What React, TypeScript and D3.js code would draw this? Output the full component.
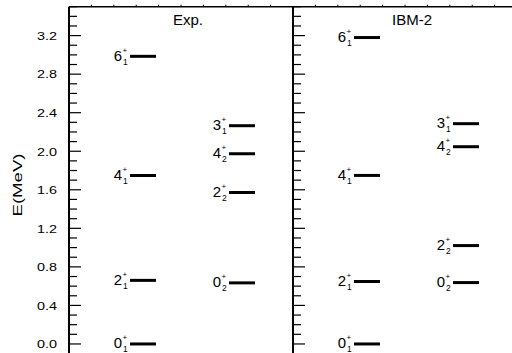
import React from "react";
import * as d3 from "d3";

const panelTitles = ["Exp.", "IBM-2"];
const levelSpins = ["0", "2", "4", "6", "0", "2", "4", "3"];
const levelIndex = ["1", "1", "1", "1", "2", "2", "2", "1"];
const levelColumn = [0, 0, 0, 0, 1, 1, 1, 1];
const expEnergies = [0, 0.66, 1.748, 2.985, 0.634, 1.572, 1.974, 2.265];
const ibmEnergies = [0, 0.648, 1.749, 3.18, 0.637, 1.021, 2.047, 2.286];
const yTickValues = [0, 0.4, 0.8, 1.2, 1.6, 2.0, 2.4, 2.8, 3.2];
const yMinorValues = d3.range(0, 36).map((i) => i / 10);

const W = 512;
const H = 353;
const PANEL_W = 224;
const LEFT = 69;
const TOP = 6.7;

export default function App() {
  const y = d3.scaleLinear().domain([-0.1, 3.5]).range([353.6, TOP]);
  const panelX = d3
    .scaleBand<number>()
    .domain([0, 1, 2])
    .range([LEFT, LEFT + 3 * PANEL_W])
    .padding(0);
  const colX = d3.scaleLinear().domain([0, 1]).range([61, 160]);
  const topTick = d3.scaleLinear().domain([0, 10]).range([0, PANEL_W]);
  const series = [expEnergies, ibmEnergies];

  return (
    <div style={{ position: "absolute", left: 0, top: 0 }}>
      <svg
        width={W}
        height={H}
        style={{ display: "block", fontFamily: "Arial, 'Liberation Sans', sans-serif" }}
      >
        <rect width={W} height={H} fill="#fff" />
        <line x1={LEFT} x2={W + 10} y1={TOP} y2={TOP} stroke="#000" strokeWidth={1.5} />
        {[0, 1].map((p) =>
          d3.range(1, 10).map((i) => (
            <line
              key={`tt${p}-${i}`}
              x1={(panelX(p) as number) + topTick(i)}
              x2={(panelX(p) as number) + topTick(i)}
              y1={TOP}
              y2={TOP - 2}
              stroke="#000"
              strokeWidth={1}
            />
          ))
        )}
        {[0, 1].map((p) => {
          const x0 = panelX(p) as number;
          return (
            <g key={`ax${p}`}>
              <line x1={x0} x2={x0} y1={TOP} y2={H + 5} stroke="#000" strokeWidth={2} />
              {yMinorValues.map((v) => {
                const major = yTickValues.some((t) => Math.abs(t - v) < 1e-6);
                return (
                  <line
                    key={`mt${v}`}
                    x1={x0}
                    x2={x0 + (major ? 12 : 8)}
                    y1={y(v)}
                    y2={y(v)}
                    stroke="#000"
                    strokeWidth={1.2}
                  />
                );
              })}
              <text x={x0 + 119} y={24.5} fontSize={15} textAnchor="middle" fill="#000">
                {panelTitles[p]}
              </text>
            </g>
          );
        })}
        {yTickValues.map((v) => (
          <text
            key={`yl${v}`}
            x={57}
            y={y(v) + 4.3}
            fontSize={11.5}
            textAnchor="end"
            textLength={20}
            lengthAdjust="spacingAndGlyphs"
            fill="#000"
          >
            {d3.format(".1f")(v)}
          </text>
        ))}
        <text
          transform={`translate(22,185) rotate(-90)`}
          fontSize={13.5}
          textAnchor="middle"
          textLength={63}
          lengthAdjust="spacingAndGlyphs"
          fill="#000"
        >
          E(MeV)
        </text>
        {series.map((energies, p) => {
          const x0 = panelX(p) as number;
          return (
            <g key={`lv${p}`}>
              {energies.map((e, i) => {
                const xs = x0 + colX(levelColumn[i]);
                const yy = y(e);
                return (
                  <g key={`l${i}`}>
                    <line x1={xs} x2={xs + 26} y1={yy} y2={yy} stroke="#000" strokeWidth={3} />
                    <text x={xs - 8} y={yy + 4.5} fontSize={15} textAnchor="end" fill="#000">
                      {levelSpins[i]}
                    </text>
                    <text x={xs - 7.5} y={yy - 3.5} fontSize={8} fill="#000">
                      +
                    </text>
                    <text x={xs - 7} y={yy + 8.5} fontSize={8.5} fill="#000">
                      {levelIndex[i]}
                    </text>
                  </g>
                );
              })}
            </g>
          );
        })}
      </svg>
    </div>
  );
}
